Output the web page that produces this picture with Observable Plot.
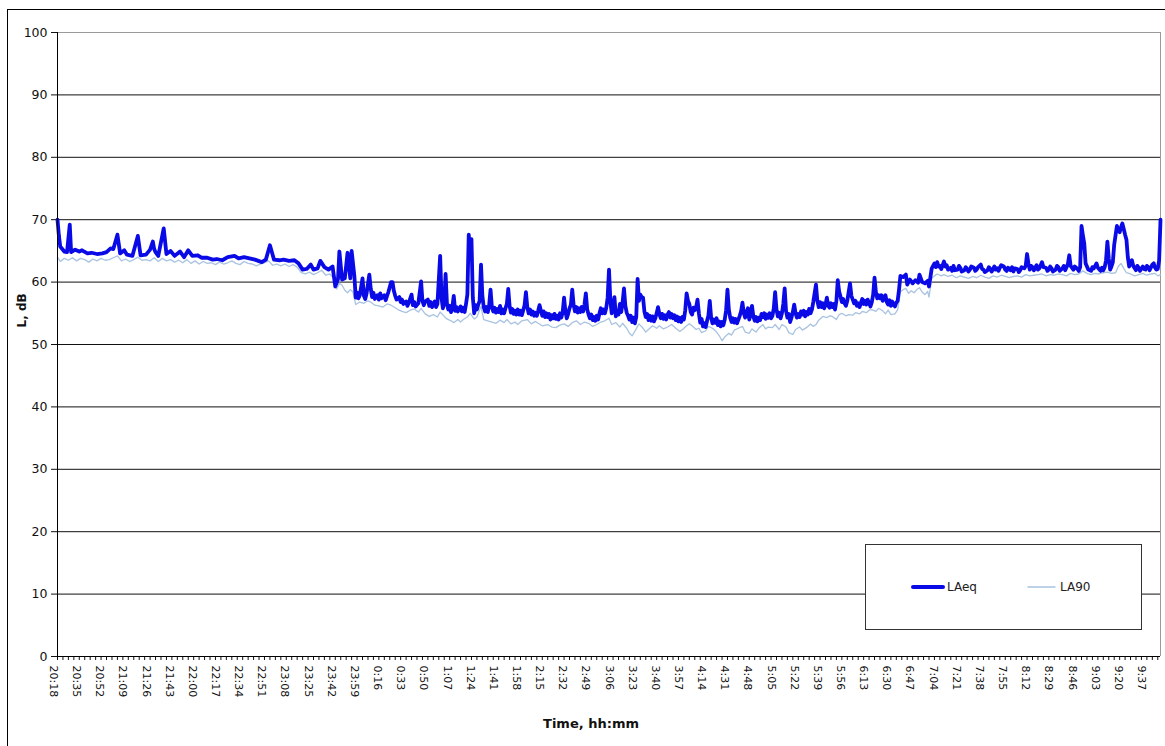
<!DOCTYPE html>
<html><head><meta charset="utf-8">
<script src="https://cdn.jsdelivr.net/npm/d3@7"></script>
<script src="https://cdn.jsdelivr.net/npm/@observablehq/plot@0.6"></script>
<style>html,body{margin:0;padding:0;background:#fff;overflow:hidden} svg{display:block}</style>
</head><body><div id="chart"></div>
<script>
// Tick labels on the time axis
const timeLabels = ["20:18","20:35","20:52","21:09","21:26","21:43","22:00","22:17","22:34","22:51","23:08","23:25","23:42","23:59","0:16","0:33","0:50","1:07","1:24","1:41","1:58","2:15","2:32","2:49","3:06","3:23","3:40","3:57","4:14","4:31","4:48","5:05","5:22","5:39","5:56","6:13","6:30","6:47","7:04","7:21","7:38","7:55","8:12","8:29","8:46","9:03","9:20","9:37"];
const yTicks = [0,10,20,30,40,50,60,70,80,90,100];
const seriesNames = ["LAeq","LA90"];

// [minutes after 20:18, dB]
const laeq = [[0,70],[1,67.5],[2,65.7],[5,64.9],[7,64.8],[9,69.2],[10,64.8],[13,65.2],[16,64.9],[18,65.1],[22,64.6],[25,64.7],[29,64.5],[33,64.6],[36,64.8],[39,65.4],[41,65.3],[44,67.6],[46,64.6],[49,65.1],[51,64.4],[55,64.2],[59,67.4],[61,64.3],[65,64.4],[68,65.2],[70,66.5],[71,65.3],[72,64.8],[74,64.2],[78,68.6],[80,64.5],[83,65.0],[86,64.2],[90,64.9],[93,64.0],[96,65.1],[99,64.2],[103,64.3],[106,63.9],[110,63.9],[114,63.6],[117,63.7],[121,63.5],[125,64.0],[130,64.2],[133,63.8],[137,64.0],[141,63.8],[145,63.6],[150,63.2],[153,63.6],[156,65.9],[159,63.6],[163,63.5],[166,63.6],[170,63.4],[174,63.5],[177,63.0],[180,62.0],[183,62.1],[186,62.8],[188,62.0],[191,62.2],[193,63.4],[196,62.4],[199,62.0],[202,62.5],[204,59.3],[206,60.5],[207,64.9],[209,60.4],[211,60.6],[213,64.7],[215,60.6],[216,65.0],[218,61.0],
[219,57.5],[220,58.3],[221,57.4],[222,57.9],[224,60.6],[225,57.8],[226,57.3],[227,58.2],[229,61.2],[230,59.0],[231,57.6],[232,58.3],[233,57.3],[235,57.9],[236,57.2],[237,58.2],[238,57.4],[240,57.9],[241,57.1],[242,57.8],[243,58.4],[245,60.0],[246,60.0],[247,58.6],[248,57.8],[249,57.2],[251,57.6],[252,56.8],[253,57.2],[254,56.5],[256,56.9],[257,56.2],[258,56.7],[260,58.0],[261,56.3],[262,56.8],[263,56.1],[265,56.6],[267,60.1],[268,57.0],[269,56.3],[270,56.9],[272,57.2],[273,56.2],[274,56.8],[275,56.0],[277,56.9],[278,56.0],[279,56.5],[281,64.2],[282,57.5],[283,55.8],[284,56.6],[285,61.3],[286,56.5],[287,55.6],[288,56.2],[289,55.2],[290,56.0],[291,57.8],[292,55.4],[293,56.0],[294,55.3],[296,56.1],[297,55.3],[298,55.9],[299,55.2],[300,56.5],[301,58.0],[302,67.6],[303,65.0],[304,66.9],[305,57.5],[306,55.0],[307,56.3],[308,55.6],[309,56.4],[310,57.0],[311,62.8],[312,57.8],[313,56.0],[314,55.3],[315,56.0],[316,55.2],[317,56.3],[318,58.8],[319,56.0],[320,55.3],[321,55.9],[322,55.1],[323,55.7],[324,55.2],[325,56.2],[326,55.0],[327,55.6],[328,55.0],[329,55.8],[330,56.5],[331,58.9],[332,56.2],[333,55.1],[334,55.7],[335,54.9],[336,55.4],[337,54.8],[338,55.6],[339,54.8],[340,55.4],[341,54.7],[342,55.5],[343,56.3],[344,58.4],[345,56.0],[346,55.0],[347,55.6],[348,54.8],[349,55.3],[350,54.6],[351,55.1],[352,54.6],[353,55.4],[354,56.3],[355,55.4],[356,54.6],[357,55.3],[358,54.4],[359,55.0],[360,54.4],[361,54.9],[362,54.0],[363,54.7],[364,54.2],[365,54.9],[366,54.1],[367,54.6],[368,54.0],[369,55.0],[370,54.3],[371,55.2],[372,57.5],[373,55.3],[374,54.2],[375,54.9],[376,55.8],[377,56.4],[378,58.8],[379,56.4],[380,55.3],[381,56.0],[382,55.1],[383,55.8],[384,55.2],[385,56.0],[386,55.3],[387,56.4],[388,58.2],[389,55.6],[390,54.8],[391,54.2],[392,54.8],[393,53.9],[394,54.4],[395,53.8],[396,54.6],[397,54.0],[398,55.0],[399,55.8],[400,55.0],[401,55.6],[402,55.0],[403,55.9],[404,57.5],[405,62.0],[406,57.0],[407,55.0],[408,56.0],[409,57.6],
[410,54.5],[411,55.4],[412,54.8],[413,56.5],[414,55.2],[415,56.8],[416,59.0],[417,56.2],[418,55.1],[419,54.6],[420,54.0],[421,54.6],[422,53.6],[423,54.3],[424,53.4],[425,54.4],[426,60.5],[427,57.0],[428,58.0],[429,57.6],[430,57.5],[431,55.3],[432,54.4],[433,54.9],[434,53.9],[435,54.6],[436,53.8],[437,54.5],[438,53.7],[439,54.2],[440,55.0],[441,56.0],[442,54.9],[443,54.2],[444,54.9],[445,54.1],[446,54.7],[447,54.0],[448,54.8],[449,55.2],[450,54.3],[451,54.9],[452,54.2],[453,54.7],[454,53.9],[455,54.5],[456,53.7],[457,54.3],[458,53.6],[459,54.4],[460,54.0],[461,55.5],[462,58.2],[463,57.0],[464,56.5],[465,55.2],[466,54.8],[467,55.9],[468,55.5],[469,56.0],[470,57.2],[471,55.0],[472,53.5],[473,54.1],[474,52.9],[475,53.4],[476,52.8],[477,53.8],[478,54.6],[479,57.0],[480,54.3],[481,53.4],[482,54.0],[483,53.5],[484,54.2],[485,53.1],[486,53.7],[487,52.9],[488,53.6],[489,53.1],[490,54.0],[491,55.5],[492,58.8],[493,55.6],[494,54.3],[495,53.6],[496,54.2],[497,53.5],[498,54.1],[499,53.4],[500,54.0],[501,54.6],[502,55.3],[503,56.7],[504,55.0],[505,54.3],[506,55.2],[507,55.8],[508,54.0],[509,54.8],[510,56.2],[511,54.5],[512,53.8],[513,54.4],[514,53.7],[515,54.3],[516,53.9],[517,54.9],[518,54.4],[519,55.0],[520,54.1],[521,54.8],[522,54.3],[523,55.0],[524,54.2],[525,54.6],[526,55.8],[527,58.4],[528,55.6],[529,54.5],[530,55.1],[531,54.2],[532,55.0],[533,56.5],[534,59.0],[535,55.4],[536,54.3],[537,54.9],[538,53.6],[539,54.3],[540,55.2],[541,56.4],[542,55.0],[543,54.3],[544,54.9],[545,54.4],[546,55.3],[547,54.8],[548,55.4],[549,54.5],[550,55.2],[551,54.8],[552,55.7],[553,55.0],[554,55.6],[555,56.8],[556,58.2],[557,59.6],[558,57.0],[559,56.0],[560,56.8],[561,56.0],[562,56.6],[563,55.8],[564,56.4],[565,57.5],[566,56.2],[567,55.9],[568,56.6],[569,56.0],[570,56.5],[571,55.6],[572,57.0],[573,60.3],[574,58.5],[575,57.7],[576,56.8],[577,57.3],[578,56.6],[579,56.2],[580,57.0],[581,58.4],[582,59.8],[583,57.8],[584,57.2],[585,56.6],[586,57.0],[587,56.2],[588,56.6],[589,56.0],[590,56.7],[591,57.3],[592,56.5],[593,57.0],[594,56.4],[595,57.2],[596,56.6],[597,56.1],[598,56.8],[599,58.0],[600,60.7],[601,58.4],[602,57.4],[603,57.9],[604,57.4],[605,57.9],[606,57.0],[607,57.6],[608,57.9],[609,56.8],[610,56.4],[611,57.1],[612,56.2],[613,56.9],[614,56.4],[615,56.1],[616,56.7],[617,57.0],[618,58.8],
[619,61.0],[621,60.8],[623,61.2],[624,59.6],[626,60.4],[628,59.8],[630,60.3],[632,59.9],[633,61.2],[635,60.0],[637,59.8],[639,60.2],[640,59.3],[642,62.2],[644,63.0],[645,62.4],[646,63.2],[647,62.5],[648,62.6],[649,62.1],[651,63.3],[652,62.5],[653,62.7],[654,62.0],[656,62.3],[657,61.8],[658,62.6],[659,61.9],[661,62.0],[662,62.6],[663,62.3],[664,61.7],[666,61.9],[667,62.4],[668,62.1],[669,61.7],[670,62.0],[671,62.5],[673,62.3],[674,61.8],[675,62.0],[676,62.4],[678,62.8],[679,62.1],[680,62.0],[681,61.6],[683,61.9],[684,62.4],[685,62.1],[686,61.7],[688,62.5],[689,62.0],[690,62.2],[691,61.8],[692,62.3],[693,62.7],[695,62.5],[696,62.0],[697,61.8],[698,62.3],[700,61.9],[701,62.4],[702,61.7],[703,62.2],[705,62.1],[706,61.6],[707,61.9],[708,62.4],[710,62.2],[711,62.6],[712,64.5],[713,63.0],[714,62.0],[715,62.6],[716,62.4],[717,61.9],[719,62.7],[720,62.0],[721,62.2],[722,62.7],[723,63.2],[724,62.4],[726,62.3],[727,61.8],[728,62.0],[729,62.5],[730,62.2],[731,61.7],[733,62.0],[734,62.6],[735,62.4],[736,61.8],[738,62.2],[739,62.6],[740,61.9],[741,62.4],[742,62.9],[743,64.3],[744,62.6],[746,62.0],[747,62.5],[749,62.1],[750,61.8],[751,62.4],[752,69.0],[753,67.5],[754,66.2],[755,63.0],[756,62.5],[757,62.0],[759,61.8],[760,62.4],[761,62.2],[762,62.6],[763,63.0],[764,62.3],[766,61.8],[767,62.3],[768,61.9],[769,62.4],[770,63.5],[771,66.5],[772,63.8],[773,62.0],[774,62.5],[775,63.2],[776,66.0],[777,67.5],[778,69.0],[779,68.2],[780,68.0],[781,68.8],[782,69.4],[783,68.5],[784,67.6],[785,66.8],[786,64.0],[787,62.5],[788,63.0],[789,63.5],[790,62.6],[792,61.9],[793,62.6],[794,62.3],[795,61.8],[797,62.5],[798,62.1],[799,62.0],[800,62.6],[801,62.4],[802,61.9],[804,62.8],[805,63.0],[806,62.3],[807,62.0],[808,62.1],[809,63.5],[810,70.0]];

const la90 = [[0,64.0],[2,63.3],[5,63.8],[8,63.5],[11,63.9],[14,63.4],[17,63.8],[20,63.6],[23,63.2],[26,63.7],[29,63.4],[32,63.8],[35,63.5],[38,63.6],[41,63.9],[44,64.2],[47,63.4],[50,63.7],[53,63.3],[56,63.6],[59,64.0],[62,63.5],[65,63.6],[68,63.4],[71,63.9],[74,63.3],[77,63.8],[80,63.4],[83,63.6],[86,63.2],[89,63.5],[92,63.1],[95,63.6],[98,63.0],[101,63.4],[104,62.9],[107,63.3],[110,63.0],[113,63.1],[116,62.8],[119,63.2],[122,62.9],[125,63.1],[128,63.4],[131,63.0],[134,62.8],[137,63.3],[140,63.0],[143,62.9],[146,62.6],[149,62.9],[152,63.1],[155,63.4],[158,62.7],[161,62.9],[164,62.6],[167,62.9],[170,62.5],[173,62.8],[176,62.4],[179,61.5],[182,61.3],[185,61.6],[188,61.2],[191,61.5],[194,61.9],[197,61.1],[200,61.3],[203,60.6],[205,58.9],[207,59.8],[209,59.5],[211,58.7],[213,58.3],[215,58.8],[217,58.4],[219,56.4],[222,56.8],[225,56.6],[228,57.0],[230,56.8],[233,56.3],[236,56.2],[239,56.0],[242,56.5],[245,56.3],[248,55.9],[250,55.6],[253,55.3],[256,55.1],[259,55.5],[262,55.7],[265,55.2],[267,55.8],[270,54.9],[273,54.5],[276,54.8],[279,54.4],[281,55.2],[284,54.5],[286,54.1],[289,53.8],[291,53.5],[294,54.0],[296,53.6],[298,54.0],[301,54.4],[303,55.0],[306,54.1],[308,54.4],[311,56.1],[313,54.0],[316,53.8],[319,53.6],[322,53.4],[325,53.9],[328,53.5],[330,54.0],[333,53.3],[336,53.6],[338,53.2],[341,53.8],[345,54.0],[348,53.3],[351,53.7],[353,53.4],[356,53.0],[360,53.2],[363,52.8],[366,52.7],[369,53.1],[372,53.3],[375,52.9],[378,53.5],[381,53.8],[384,53.2],[387,53.6],[390,53.4],[393,52.9],[396,53.2],[399,53.6],[402,53.8],[405,54.2],[407,53.2],[410,53.5],[413,52.8],[415,53.4],[418,52.6],[420,51.8],[422,51.4],[425,52.5],[427,53.3],[430,52.6],[432,52.0],[434,52.4],[437,53.0],[440,52.6],[442,53.0],[445,52.5],[448,52.8],[451,53.2],[454,52.6],[457,52.1],[459,52.4],[462,53.0],[464,53.3],[466,53.0],[469,52.4],[471,52.6],[473,51.9],[476,52.2],[478,52.9],[481,52.6],[484,52.0],[486,51.4],[488,50.6],[490,51.2],[493,51.8],[495,51.5],[497,52.3],[500,52.6],[503,52.9],[505,52.0],[508,51.8],[510,52.5],[513,52.0],[515,52.6],[518,53.2],[520,52.5],[522,52.8],[525,52.7],[527,53.2],[530,52.4],[532,53.2],[535,52.8],[537,51.9],[540,51.6],[542,52.4],[545,52.8],[547,52.3],[550,52.7],[553,53.3],[555,52.9],[557,53.2],[559,53.9],[562,54.5],[565,54.3],[567,54.6],[569,54.5],[572,54.0],[574,54.8],[576,55.0],[579,54.6],[581,54.8],[584,54.7],[586,55.1],[589,54.9],[591,55.3],[594,55.1],[596,55.5],[598,55.6],[601,55.3],[603,55.8],[606,55.4],[608,54.9],[610,55.5],[612,54.8],[615,54.9],[617,55.6],[619,58.4],[621,58.8],[623,59.0],[625,58.2],[627,58.6],[629,58.3],[631,58.8],[633,59.1],[635,58.4],[637,58.0],[639,58.5],[640,57.6],[642,60.6],[644,61.0],[646,61.3],[649,61.0],[651,61.2],[654,60.9],[657,61.1],[660,60.7],[663,61.0],[666,60.8],[669,60.6],[672,60.9],[675,60.7],[678,61.1],[681,60.8],[684,60.6],[687,61.0],[690,60.8],[693,61.1],[696,60.9],[699,60.7],[702,60.9],[705,61.0],[708,60.8],[711,61.2],[714,61.0],[717,61.1],[720,61.2],[723,61.3],[726,61.0],[729,61.2],[732,61.1],[735,61.3],[738,61.2],[741,61.0],[744,61.4],[747,61.2],[750,61.3],[753,61.8],[756,61.4],[759,61.2],[762,61.4],[765,61.3],[768,61.5],[771,61.6],[774,61.4],[777,61.5],[779,62.5],[781,63.0],[783,62.2],[785,61.5],[788,61.3],[791,61.0],[794,61.2],[797,61.4],[800,61.1],[803,61.3],[806,61.4],[808,61.0],[810,61.2]];

const colors = {LAeq: "#0a0ae6", LA90: "#a9c3e0"};
const startMin = 20 * 60 + 18;
const toOffset = s => { const [h, m] = s.split(":").map(Number); return (h * 60 + m - startMin + 1440) % 1440; };
const labelTicks = timeLabels.map(toOffset);
const minorTicks = d3.range(0, 811, 4);

const chart = Plot.plot({
  width: 1165, height: 746,
  marginLeft: 57, marginRight: 5, marginTop: 32, marginBottom: 90,
  style: {fontFamily: "DejaVu Sans, Verdana, sans-serif", background: "#fff", color: "#111", overflow: "visible"},
  x: {domain: [0, 810], axis: null},
  y: {domain: [0, 100], axis: null},
  marks: [
    Plot.ruleY(yTicks.filter(d => d > 0 && d < 100), {stroke: "#111", strokeWidth: 1}),
    Plot.ruleY([100], {stroke: "#9a9a9a"}),
    Plot.ruleX([810], {stroke: "#9a9a9a"}),
    Plot.axisY({ticks: yTicks, tickSize: 6, tickPadding: 4, fontSize: 12.5, label: null}),
    Plot.axisX({ticks: minorTicks, tickSize: 4, tickFormat: () => "", label: null}),
    Plot.axisX({ticks: labelTicks, tickSize: 0, tickPadding: 9, tickRotate: 90, fontSize: 11, dx: -4,
      tickFormat: d => timeLabels[labelTicks.indexOf(d)], label: null}),
    Plot.line(la90, {x: d => d[0], y: d => d[1], stroke: colors.LA90, strokeWidth: 1.3}),
    Plot.line(laeq, {x: d => d[0], y: d => d[1], stroke: colors.LAeq, strokeWidth: 3.8, strokeLinejoin: "round"}),
    Plot.ruleX([0], {stroke: "#000"}),
    Plot.ruleY([0], {stroke: "#000"}),
    Plot.text(["L, dB"], {text: d => d, frameAnchor: "left", dx: -35, dy: -17, rotate: -90, fontWeight: "bold", fontSize: 12, fill: "#111"}),
    Plot.text(["Time, hh:mm"], {text: d => d, frameAnchor: "bottom", dx: -18, dy: 71, fontWeight: "bold", fontSize: 13, fill: "#111"})
  ]
});
document.getElementById("chart").appendChild(chart);

// Outer chart frame and legend
const svg = d3.select(chart);
svg.append("rect").attr("x", 7.5).attr("y", 9.5).attr("width", 1200).attr("height", 800)
  .attr("fill", "none").attr("stroke", "#000");
const lg = svg.append("g").attr("font-family", "DejaVu Sans, Verdana, sans-serif").attr("font-size", 12).attr("text-anchor", "start");
lg.append("rect").attr("x", 865.5).attr("y", 544.5).attr("width", 276).attr("height", 85)
  .attr("fill", "#fff").attr("stroke", "#333");
const items = [
  {name: seriesNames[0], x: 913, w: 30, sw: 4, tx: 947},
  {name: seriesNames[1], x: 1028, w: 27, sw: 1.3, tx: 1060}
];
items.forEach(it => {
  lg.append("line").attr("x1", it.x).attr("x2", it.x + it.w).attr("y1", 587).attr("y2", 587)
    .attr("stroke", colors[it.name]).attr("stroke-width", it.sw).attr("stroke-linecap", "round");
  lg.append("text").attr("x", it.tx).attr("y", 591).attr("fill", "#222").attr("text-anchor", "start").text(it.name);
});
</script>
</body></html>
